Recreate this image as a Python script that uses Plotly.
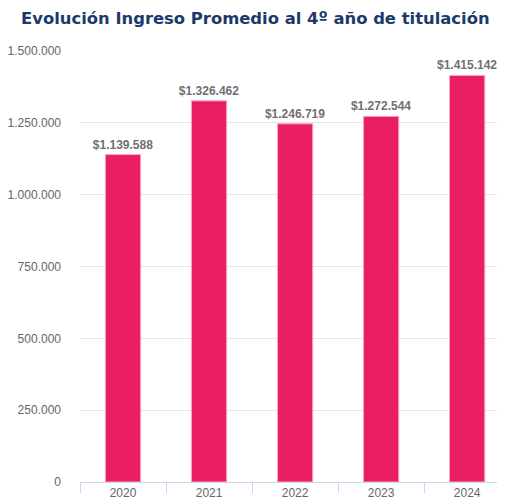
import plotly.graph_objects as go

years = ["2020", "2021", "2022", "2023", "2024"]
values = [1139588, 1326462, 1246719, 1272544, 1415142]
tick_vals = [0, 250000, 500000, 750000, 1000000, 1250000, 1500000]

fig = go.Figure(go.Bar(
    x=years, y=values,
    marker=dict(color="#e91e63", line=dict(color="#f7a8c3", width=1)),
    width=0.41,
    texttemplate="$%{y:,d}", textposition="outside", constraintext="none",
    textfont=dict(family="Liberation Sans, Arial", size=12, color="#707070", weight="bold"),
    cliponaxis=False,
))

fig.update_layout(
    width=497, height=496,
    margin=dict(l=72, r=0, t=43, b=22),
    plot_bgcolor="white", paper_bgcolor="white",
    separators=",.",
    showlegend=False,
    title=dict(text="<b>Evolución Ingreso Promedio al 4º año de titulación</b>",
               x=13/497, xanchor="left", xref="container", y=0.98, yanchor="middle",
               font=dict(family="DejaVu Sans", size=16.4, color="#1b3a6b")),
    font=dict(family="Liberation Sans, Arial", size=12, color="#666666"),
)
fig.update_xaxes(range=[-0.5, 4.44], showline=True, linecolor="#ccd6eb", linewidth=1,
                 ticks="outside", tickson="boundaries", ticklen=10, tickcolor="#ccd6eb",
                 tickfont=dict(size=12, color="#666666"), showgrid=False, fixedrange=True)
fig.update_yaxes(range=[0, 1500000], tickvals=tick_vals, tickformat=",d",
                 showgrid=True, gridcolor="#e6e6e6", zeroline=False,
                 ticklabelstandoff=18,
                 tickfont=dict(size=12, color="#666666"))

fig.write_html("out.html")
